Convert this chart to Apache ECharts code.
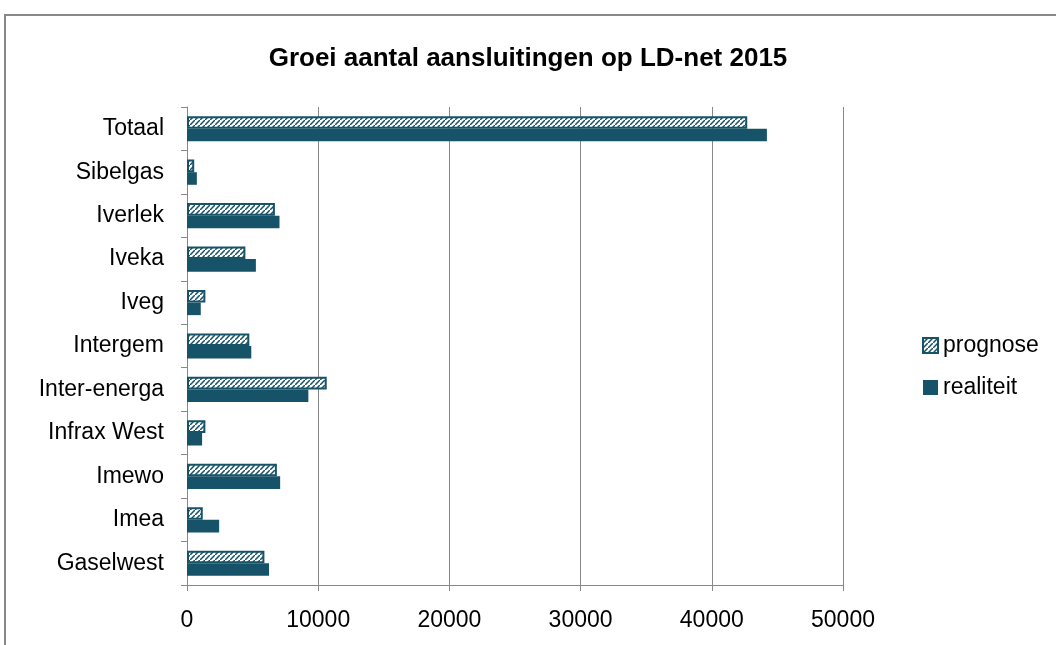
<!DOCTYPE html>
<html>
<head>
<meta charset="utf-8">
<script src="https://cdn.jsdelivr.net/npm/echarts@6/dist/echarts.min.js"></script>
<style>
  html, body { margin: 0; padding: 0; background: #fff; }
  #chart { width: 1056px; height: 645px; }
</style>
</head>
<body>
<div id="chart"></div>
<script>
const categories = ['Gaselwest', 'Imea', 'Imewo', 'Infrax West', 'Inter-energa', 'Intergem', 'Iveg', 'Iveka', 'Iverlek', 'Sibelgas', 'Totaal'];
const prognose = [5900, 1200, 6850, 1400, 10650, 4750, 1400, 4450, 6700, 550, 42700];
const realiteit = [6250, 2450, 7100, 1150, 9250, 4900, 1050, 5250, 7050, 750, 44200];
const xTicks = [0, 10000, 20000, 30000, 40000, 50000];

const dark = '#165369';
const font = 'Liberation Sans';

// hatched fill for the prognose bars
function hatch() {
  const s = 5;
  const c = document.createElement('canvas');
  c.width = s; c.height = s;
  const g = c.getContext('2d');
  g.fillStyle = '#fff';
  g.fillRect(0, 0, s, s);
  g.strokeStyle = dark;
  g.lineWidth = 1.5;
  g.beginPath();
  g.moveTo(-1, s + 1); g.lineTo(s + 1, -1);
  g.moveTo(-s - 1, 1); g.lineTo(1, -s - 1);
  g.moveTo(s - 1, 2 * s + 1); g.lineTo(2 * s + 1, s - 1);
  g.stroke();
  return c;
}
const hatchFill = { image: hatch(), repeat: 'repeat' };

const chart = echarts.init(document.getElementById('chart'));
chart.setOption({
  animation: false,
  title: {
    text: 'Groei aantal aansluitingen op LD-net 2015',
    left: 'center',
    top: 41,
    textStyle: { fontFamily: font, fontSize: 26, fontWeight: 'bold', color: '#000' }
  },
  graphic: [{
    type: 'rect',
    shape: { x: 5, y: 15, width: 1200, height: 800 },
    style: { fill: 'none', stroke: '#888', lineWidth: 2 }
  }],
  legend: {
    data: ['prognose', 'realiteit'],
    orient: 'vertical',
    left: 917,
    top: 329,
    icon: 'rect',
    itemWidth: 15,
    itemHeight: 15,
    itemGap: 19,
    textStyle: { fontFamily: font, fontSize: 23, color: '#000' }
  },
  grid: { left: 187, right: 213, top: 107, bottom: 60 },
  xAxis: {
    type: 'value',
    min: xTicks[0],
    max: xTicks[xTicks.length - 1],
    interval: 10000,
    axisLine: { show: true, lineStyle: { color: '#888' } },
    axisTick: { show: true, length: 6, lineStyle: { color: '#888' } },
    splitLine: { lineStyle: { color: '#888' } },
    axisLabel: { fontFamily: font, fontSize: 23, color: '#000', margin: 24, formatter: v => String(v) }
  },
  yAxis: {
    type: 'category',
    data: categories,
    axisLine: { show: true, lineStyle: { color: '#888' } },
    axisTick: { show: true, length: 6, lineStyle: { color: '#888' } },
    axisLabel: { fontFamily: font, fontSize: 23, color: '#000', margin: 23 }
  },
  series: [
    {
      name: 'prognose',
      type: 'bar',
      data: prognose,
      barGap: '0%',
      barCategoryGap: '42%',
      itemStyle: { color: hatchFill, borderColor: dark, borderWidth: 2 }
    },
    {
      name: 'realiteit',
      type: 'bar',
      data: realiteit,
      itemStyle: { color: dark }
    }
  ]
});
</script>
</body>
</html>
